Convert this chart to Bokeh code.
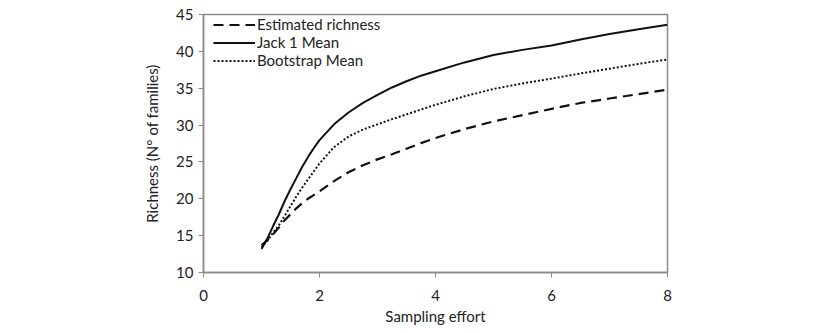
from bokeh.plotting import figure
from bokeh.models import Legend, LegendItem, FixedTicker
from bokeh.embed import file_html
from bokeh.resources import INLINE

effort = [1.0, 1.1, 1.2, 1.3, 1.4, 1.5, 1.6, 1.7, 1.8, 1.9, 2.0, 2.25, 2.5, 2.75, 3.0,
          3.25, 3.5, 3.75, 4.0, 4.5, 5.0, 5.5, 6.0, 6.5, 7.0, 7.5, 8.0]
estimated = [13.7, 14.4, 15.2, 16.1, 17.1, 17.9, 18.7, 19.4, 20.0, 20.5, 21.0, 22.4, 23.6, 24.55, 25.35,
             26.05, 26.8, 27.55, 28.25, 29.45, 30.5, 31.35, 32.2, 33.0, 33.6, 34.2, 34.8]
jack1 = [13.2, 14.6, 16.3, 17.9, 19.7, 21.3, 22.8, 24.3, 25.65, 26.85, 27.95, 30.1, 31.7, 33.0, 34.1,
         35.1, 35.95, 36.7, 37.3, 38.5, 39.5, 40.2, 40.8, 41.6, 42.35, 43.0, 43.6]
bootstrap = [13.4, 14.3, 15.4, 16.4, 17.7, 19.0, 20.3, 21.5, 22.6, 23.7, 24.8, 27.0, 28.45, 29.4, 30.1,
             30.8, 31.45, 32.1, 32.75, 33.9, 34.9, 35.65, 36.3, 37.0, 37.65, 38.3, 38.9]
labels = ["Estimated richness", "Jack 1 Mean", "Bootstrap Mean"]
x_ticks = [0, 2, 4, 6, 8]
y_ticks = [10, 15, 20, 25, 30, 35, 40, 45]

FONT = "Lato"
GRAY = "#8a8a8a"

p = figure(width=825, height=333, x_range=(0, 8), y_range=(10, 45),
           output_backend="svg", toolbar_location=None,
           min_border_left=203, min_border_right=158, min_border_top=14, min_border_bottom=61)
p.background_fill_color = "white"
p.border_fill_color = "white"
p.outline_line_color = GRAY
p.outline_line_width = 1.5
p.grid.visible = False

r1 = p.line(effort, estimated, line_color="#111111", line_width=2.2, line_dash="10 6", line_join="round")
r2 = p.line(effort, jack1, line_color="#111111", line_width=2, line_join="round")
r3 = p.line(effort, bootstrap, line_color="#111111", line_width=2, line_dash="2 2", line_join="round")

for ax in (p.xaxis[0], p.yaxis[0]):
    ax.axis_line_color = GRAY
    ax.axis_line_width = 1.5
    ax.major_tick_line_color = GRAY
    ax.major_tick_out = 5
    ax.major_tick_in = 0
    ax.minor_tick_line_color = None
    ax.major_label_text_font = FONT
    ax.major_label_text_font_size = "15px"
    ax.major_label_text_color = "#222222"
    ax.axis_label_text_font = FONT
    ax.axis_label_text_font_size = "15px"
    ax.axis_label_text_font_style = "normal"
    ax.axis_label_text_color = "#222222"

p.xaxis[0].ticker = FixedTicker(ticks=x_ticks)
p.yaxis[0].ticker = FixedTicker(ticks=y_ticks)
p.xaxis[0].axis_label = "Sampling effort"
p.yaxis[0].axis_label = "Richness (N° of families)"
p.xaxis[0].major_label_standoff = 12
p.xaxis[0].axis_label_standoff = 3
p.yaxis[0].major_label_standoff = 5
p.yaxis[0].axis_label_standoff = 12

legend = Legend(items=[LegendItem(label=labels[0], renderers=[r1]),
                       LegendItem(label=labels[1], renderers=[r2]),
                       LegendItem(label=labels[2], renderers=[r3])],
                location=(10, 203), margin=0, padding=0, spacing=0,
                glyph_width=42, glyph_height=17, label_height=17, label_standoff=2,
                label_text_font=FONT, label_text_font_size="15px", label_text_color="#222222",
                background_fill_alpha=0, border_line_color=None)
p.add_layout(legend)

open("out.html", "w").write(file_html(p, INLINE))
